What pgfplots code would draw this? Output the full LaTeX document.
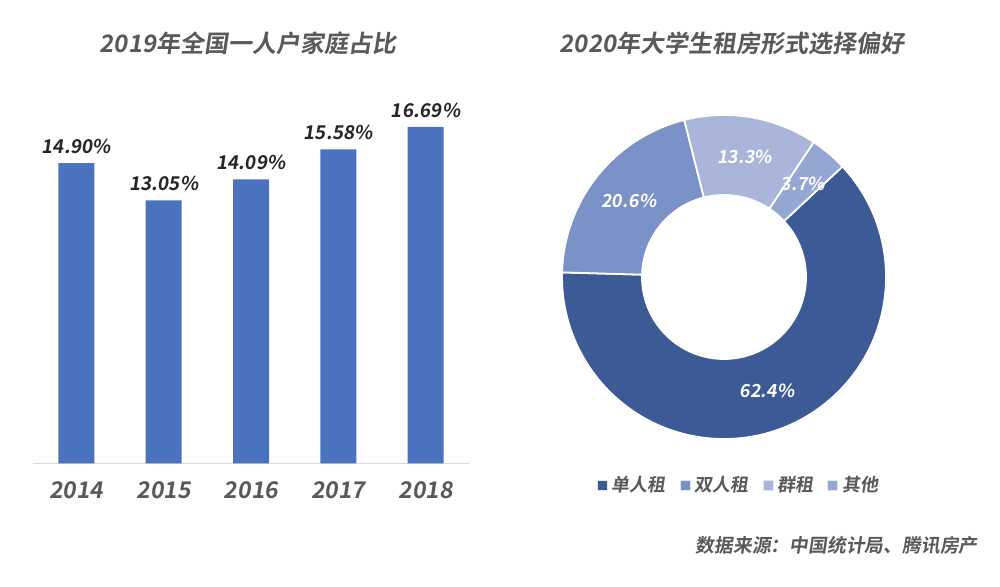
\documentclass[border=0pt]{standalone}
\usepackage{pgfplots}
\pgfplotsset{compat=1.18}
\usepackage{pgfplotstable}
\usepackage{fontspec}
\setmainfont[FakeSlant=0.15, BoldFont={* Bold}]{Noto Sans CJK SC}
\definecolor{barblue}{HTML}{4A72BE}
\definecolor{c1}{HTML}{3C5A96}
\definecolor{c2}{HTML}{7B92C8}
\definecolor{c3}{HTML}{A9B6DA}
\definecolor{c4}{HTML}{94A6D2}
\definecolor{txtgray}{HTML}{595959}
\definecolor{axisgray}{HTML}{D9D9D9}

\pgfplotstableread{
x y
0 14.90
1 13.05
2 14.09
3 15.58
4 16.69
}\bardata

\pgfplotstableread{
value color
62.4 c1
20.6 c2
13.3 c3
3.7 c4
}\donut

\newcommand\slicefont{\fontsize{9}{10}\selectfont\bfseries\color{white}}

\begin{document}
\begin{tikzpicture}
\path[use as bounding box] (0,0) rectangle (500pt,-293.5pt);

% titles
\node[text=txtgray, font=\fontsize{12}{14}\selectfont\bfseries] at (124pt,-21.5pt) {2019年全国一人户家庭占比};
\node[text=txtgray, font=\fontsize{12}{14}\selectfont\bfseries] at (366pt,-21.5pt) {2020年大学生租房形式选择偏好};

% bar chart
\begin{axis}[
    at={(16.35pt,-231.65pt)}, anchor=south west,
    scale only axis, width=218.3pt, height=181.35pt,
    ybar, bar width=18pt,
    xmin=-0.5, xmax=4.5, ymin=0, ymax=18,
    axis x line=bottom, axis y line=none,
    axis line style={-},
    x axis line style={draw=axisgray, line width=0.8pt},
    xtick={0,...,4}, xticklabels={2014,2015,2016,2017,2018},
    ytick=\empty, major tick length=0pt,
    xticklabel style={text=txtgray, font=\fontsize{11.5}{13}\selectfont\bfseries, yshift=-5.5pt},
    /pgf/number format/assume math mode=true,
    nodes near coords={\pgfmathprintnumber[fixed,fixed zerofill,precision=2]{\pgfplotspointmeta}\%},
    every node near coord/.append style={font=\fontsize{9.5}{11}\selectfont\bfseries, text=black!85, anchor=south, inner sep=0pt, yshift=4.5pt},
    clip=false,
]
\addplot[fill=barblue, draw=none] table[x=x, y=y] {\bardata};
\end{axis}

% donut chart
\begin{axis}[
    at={(362pt,-138.5pt)}, anchor=center,
    x=1pt, y=1pt,
    xmin=-81, xmax=81, ymin=-81, ymax=81,
    hide axis, clip=false,
    legend columns=4,
    legend style={at={(0.548,-0.142)}, anchor=center, draw=none, fill=none,
        font=\fontsize{9}{10}\selectfont\bfseries, text=txtgray,
        /tikz/every even column/.append style={column sep=5pt}},
    legend image code/.code={\draw[#1, draw=gray!20, line width=0.4pt] (0pt,-2.5pt) rectangle (5pt,2.5pt);},
]
\addlegendimage{fill=c1}\addlegendentry{单人租}
\addlegendimage{fill=c2}\addlegendentry{双人租}
\addlegendimage{fill=c3}\addlegendentry{群租}
\addlegendimage{fill=c4}\addlegendentry{其他}
\pgfmathsetmacro{\cum}{43}
\pgfplotsforeachungrouped \i in {0,...,3}{%
  \pgfplotstablegetelem{\i}{value}\of\donut \let\val\pgfplotsretval
  \pgfplotstablegetelem{\i}{color}\of\donut \let\col\pgfplotsretval
  \pgfmathsetmacro{\a}{\cum}%
  \pgfmathsetmacro{\b}{\cum-3.6*\val}%
  \pgfmathsetmacro{\m}{(\a+\b)/2}%
  \edef\slice{\noexpand\fill[\col, draw=white, line width=0.9pt]
    (axis cs:{81*cos(\a)},{81*sin(\a)}) arc[start angle=\a, end angle=\b, radius=81pt]
    -- (axis cs:{41*cos(\b)},{41*sin(\b)}) arc[start angle=\b, end angle=\a, radius=41pt] -- cycle;
    \noexpand\node[font=\noexpand\slicefont] at (axis cs:{61*cos(\m)},{61*sin(\m)}) {\val\noexpand\%};}%
  \slice
  \global\let\cum\b
}
\end{axis}

% source
\node[anchor=east, inner sep=0pt, text=txtgray, font=\fontsize{9.4}{11}\selectfont\bfseries] at (489pt,-272.5pt) {数据来源：中国统计局、腾讯房产};
\end{tikzpicture}
\end{document}
